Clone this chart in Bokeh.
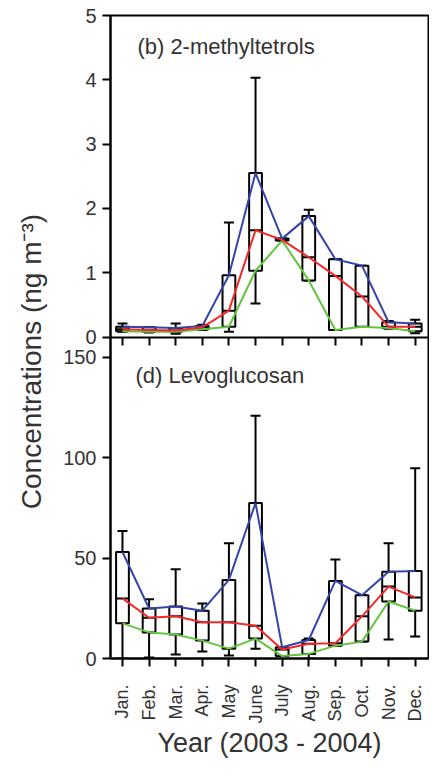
import math
from bokeh.plotting import figure
from bokeh.models import Range1d, LinearAxis, FixedTicker
from bokeh.layouts import row
from bokeh.embed import file_html
from bokeh.resources import INLINE
from bokeh.core.properties import value

# ---------------- data ----------------
months = ["Jan.", "Feb.", "Mar.", "Apr.", "May", "June",
          "July", "Aug.", "Sep.", "Oct.", "Nov.", "Dec."]
month_pos = [1, 2, 3, 4, 5, 6, 7, 8, 9, 10, 11, 12]

# (b) 2-methyltetrols, ng m-3
mt_wmax = [0.21, 0.15, 0.21, 0.19, 1.78, 4.03, 1.53, 1.98, 1.21, 1.11, 0.25, 0.27]
mt_q3 = [0.16, 0.15, 0.14, 0.17, 0.96, 2.55, 1.53, 1.88, 1.21, 1.11, 0.23, 0.21]
mt_med = [0.12, 0.11, 0.10, 0.15, 0.41, 1.66, 1.51, 1.24, 0.95, 0.63, 0.16, 0.16]
mt_q1 = [0.09, 0.08, 0.08, 0.12, 0.16, 1.03, 1.50, 0.88, 0.11, 0.16, 0.14, 0.09]
mt_wmin = [0.08, 0.07, 0.05, 0.11, 0.08, 0.52, 1.50, 0.88, 0.11, 0.16, 0.13, 0.06]

# (d) Levoglucosan, ng m-3
lv_wmax = [63.4, 29.5, 44.4, 27.4, 57.3, 120.8, 5.6, 10.0, 49.3, 31.5, 57.3, 94.7]
lv_q3 = [53.0, 24.9, 25.9, 23.8, 39.1, 77.4, 5.6, 9.2, 38.6, 31.5, 43.2, 43.6]
lv_med = [29.9, 20.3, 21.0, 18.0, 18.0, 16.3, 4.5, 7.3, 7.6, 21.0, 35.8, 30.4]
lv_q1 = [17.5, 13.0, 11.9, 8.9, 4.9, 9.9, 1.2, 2.3, 6.4, 8.4, 28.4, 23.8]
lv_wmin = [0.0, 0.5, 2.0, 3.5, 1.5, 4.9, 1.2, 0.0, 6.4, 8.4, 9.4, 10.9]

mt_ticks = [0, 1, 2, 3, 4, 5]
lv_ticks = [0, 50, 100, 150]

title_top = "(b) 2-methyltetrols"
title_bot = "(d) Levoglucosan"
x_label = "Year (2003 - 2004)"
y_label = "Concentrations (ng m\u207b\u00b3)"

# ---------------- panel geometry ----------------
# lower panel (levoglucosan) uses the main y range 0..160,
# upper panel (2-methyltetrols) uses an extra range 0..5 stacked above it.
LV_TOP = 160          # top of the lower panel in lower-panel units
MT_TOP = 5            # top of the upper panel in upper-panel units
K = LV_TOP / MT_TOP   # lower-panel units per upper-panel unit (equal heights)

FONT = "Liberation Sans"
TXT = "#333333"
BLUE = "#3444a8"
RED = "#f42828"
GREEN = "#62c43e"

p = figure(width=377, height=760,
           x_range=Range1d(0.55, 12.5), y_range=Range1d(0, 2 * LV_TOP),
           x_axis_type=None, y_axis_type=None,
           output_backend="svg", toolbar_location=None,
           min_border_left=58, min_border_right=1,
           min_border_top=15, min_border_bottom=100)
p.extra_y_ranges = {"top": Range1d(-MT_TOP, MT_TOP)}
p.outline_line_color = "black"
p.outline_line_width = 2


def style_axis(ax, fs="20px"):
    ax.axis_line_color = "black"
    ax.axis_line_width = 2
    ax.major_tick_line_color = "black"
    ax.major_tick_line_width = 2
    ax.major_tick_in = 0
    ax.major_tick_out = 8
    ax.minor_tick_line_color = None
    ax.major_label_text_font = FONT
    ax.major_label_text_font_size = fs
    ax.major_label_text_color = TXT
    ax.major_label_standoff = 6


# one left axis carrying both panels' tick labels
y_ticks = list(lv_ticks) + [int(LV_TOP + K * t) for t in mt_ticks]
y_over = {int(LV_TOP + K * t): str(t) for t in mt_ticks}
y_ax = LinearAxis(ticker=FixedTicker(ticks=y_ticks), major_label_overrides=y_over)
style_axis(y_ax)
p.add_layout(y_ax, "left")

# x ticks of the upper panel, on the boundary between panels
x_mid = LinearAxis(ticker=FixedTicker(ticks=month_pos), fixed_location=LV_TOP,
                   major_label_overrides={m: "" for m in month_pos})
style_axis(x_mid)
p.add_layout(x_mid, "below")

x_ax = LinearAxis(ticker=FixedTicker(ticks=month_pos),
                  major_label_overrides={pos: m for pos, m in zip(month_pos, months)},
                  major_label_orientation=math.pi / 2,
                  axis_label=x_label)
style_axis(x_ax, "18px")
x_ax.major_label_standoff = 18
x_ax.axis_label_text_font = FONT
x_ax.axis_label_text_font_size = "27px"
x_ax.axis_label_text_font_style = "normal"
x_ax.axis_label_text_color = TXT
x_ax.axis_label_standoff = 1
p.add_layout(x_ax, "below")


def panel(wmin, q1, med, q3, wmax, rname):
    kw = {} if rname is None else {"y_range_name": rname}
    p.segment(x0=month_pos, y0=wmin, x1=month_pos, y1=wmax,
              line_color="black", line_width=2, **kw)
    p.scatter(x=month_pos, y=wmax, marker="dash", size=10,
              line_color="black", line_width=2, **kw)
    p.scatter(x=month_pos, y=wmin, marker="dash", size=10,
              line_color="black", line_width=2, **kw)
    p.vbar(x=month_pos, width=0.48, bottom=q1, top=q3,
           fill_color="white", line_color="black", line_width=2, **kw)
    p.scatter(x=month_pos, y=med, marker="dash", size=13,
              line_color="black", line_width=2, **kw)
    p.line(x=month_pos, y=q3, line_color=BLUE, line_width=2, **kw)
    p.line(x=month_pos, y=q1, line_color=GREEN, line_width=2, **kw)
    p.line(x=month_pos, y=med, line_color=RED, line_width=2, **kw)


panel(mt_wmin, mt_q1, mt_med, mt_q3, mt_wmax, "top")
panel(lv_wmin, lv_q1, lv_med, lv_q3, lv_wmax, None)

p.text(x=[1.56], y=[4.52], text=[title_top], y_range_name="top",
       text_font=value(FONT), text_font_size="22px", text_color=TXT,
       text_align="left", text_baseline="middle")
p.text(x=[1.49], y=[141], text=[title_bot],
       text_font=value(FONT), text_font_size="22px", text_color=TXT,
       text_align="left", text_baseline="middle")

# ---- y-axis title spanning both panels ----
lf = figure(width=52, height=760, x_range=Range1d(0, 52), y_range=Range1d(0, 760),
            x_axis_type=None, y_axis_type=None,
            output_backend="svg", toolbar_location=None,
            min_border_left=0, min_border_right=0, min_border_top=0, min_border_bottom=0)
lf.outline_line_color = None
lf.text(x=[31], y=[351], text=[y_label], angle=math.pi / 2,
        text_font=value(FONT), text_font_size="28px", text_color=TXT,
        text_align="center", text_baseline="middle")

layout = row(lf, p)
open("out.html", "w").write(file_html(layout, INLINE))
